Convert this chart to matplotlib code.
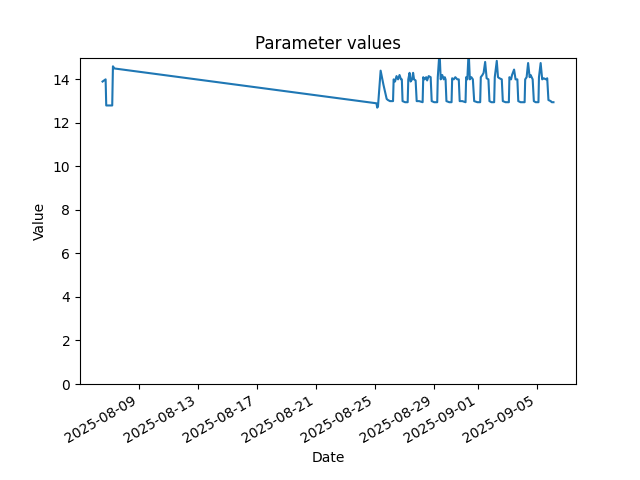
import matplotlib
matplotlib.use("Agg")
import matplotlib.pyplot as plt
import pandas as pd

timestamps = [
    "2025-08-06 13:15", "2025-08-06 18:15", "2025-08-06 19:15", "2025-08-07 05:00",
    "2025-08-07 06:10", "2025-08-07 08:40",
    "2025-08-25 03:00", "2025-08-25 04:15", "2025-08-25 05:30", "2025-08-25 09:50",
    "2025-08-25 14:25", "2025-08-25 19:40", "2025-08-25 21:45",
    "2025-08-26 01:00", "2025-08-26 06:00",
    "2025-08-26 07:00", "2025-08-26 09:15", "2025-08-26 11:40", "2025-08-26 14:10",
    "2025-08-26 16:35", "2025-08-26 19:00", "2025-08-26 20:20", "2025-08-26 21:30",
    "2025-08-27 01:35", "2025-08-27 05:50",
    "2025-08-27 06:50", "2025-08-27 08:55", "2025-08-27 10:35", "2025-08-27 13:00",
    "2025-08-27 14:40", "2025-08-27 16:15", "2025-08-27 18:45", "2025-08-27 20:30",
    "2025-08-28 00:30", "2025-08-28 06:10",
    "2025-08-28 07:10", "2025-08-28 09:30", "2025-08-28 11:55", "2025-08-28 13:30",
    "2025-08-28 16:00", "2025-08-28 19:15", "2025-08-28 20:55",
    "2025-08-29 01:00", "2025-08-29 05:55",
    "2025-08-29 06:50", "2025-08-29 09:40", "2025-08-29 11:35", "2025-08-29 14:05",
    "2025-08-29 16:30", "2025-08-29 18:10", "2025-08-29 19:30", "2025-08-29 20:55",
    "2025-08-30 01:30", "2025-08-30 05:15",
    "2025-08-30 06:15", "2025-08-30 08:50", "2025-08-30 11:20", "2025-08-30 14:35",
    "2025-08-30 17:00", "2025-08-30 18:30",
    "2025-08-30 22:45", "2025-08-31 04:00",
    "2025-08-31 05:00", "2025-08-31 06:55", "2025-08-31 09:05", "2025-08-31 11:00",
    "2025-08-31 13:30", "2025-08-31 15:55", "2025-08-31 18:05",
    "2025-08-31 23:15", "2025-09-01 03:50",
    "2025-09-01 04:50", "2025-09-01 07:30", "2025-09-01 09:25", "2025-09-01 11:55",
    "2025-09-01 14:20", "2025-09-01 17:15", "2025-09-01 18:55",
    "2025-09-01 22:10", "2025-09-02 02:35",
    "2025-09-02 03:35", "2025-09-02 06:50", "2025-09-02 08:50", "2025-09-02 11:15",
    "2025-09-02 15:00", "2025-09-02 16:40",
    "2025-09-02 21:05", "2025-09-03 02:30",
    "2025-09-03 03:25", "2025-09-03 06:05", "2025-09-03 07:40", "2025-09-03 11:00",
    "2025-09-03 13:25", "2025-09-03 16:20", "2025-09-03 17:50",
    "2025-09-03 21:35", "2025-09-04 04:10",
    "2025-09-04 05:05", "2025-09-04 07:25", "2025-09-04 09:50", "2025-09-04 12:20",
    "2025-09-04 13:55", "2025-09-04 17:15", "2025-09-04 19:10",
    "2025-09-04 22:05", "2025-09-05 02:40",
    "2025-09-05 03:30", "2025-09-05 06:15", "2025-09-05 08:45", "2025-09-05 11:10",
    "2025-09-05 14:55", "2025-09-05 16:55", "2025-09-05 18:55",
    "2025-09-05 22:40", "2025-09-06 00:15", "2025-09-06 03:05",
]

values = [
    13.9, 14.0, 12.8, 12.8,
    14.6, 14.5,
    12.9, 12.7, 12.75, 14.4,
    13.75, 13.1, 13.05,
    13.0, 13.0,
    14.0, 13.9, 14.15, 14.0,
    14.2, 14.0, 14.0, 13.0,
    12.95, 12.95,
    14.0, 14.3, 13.9, 14.0,
    14.3, 14.0, 13.95, 13.0,
    13.0, 12.95,
    14.1, 14.0, 14.1, 13.95,
    14.15, 14.1, 13.0,
    12.95, 12.95,
    14.1, 15.3, 14.0, 14.2,
    14.0, 14.1, 14.0, 13.0,
    12.95, 12.95,
    14.05, 14.0, 14.1, 14.0,
    14.0, 13.0,
    13.0, 12.95,
    14.1, 14.0, 15.3, 14.0,
    14.1, 14.0, 13.0,
    12.95, 12.95,
    14.1, 14.2, 14.3, 14.8,
    14.05, 14.0, 13.0,
    12.95, 12.95,
    14.1, 14.85, 14.1, 14.05,
    14.0, 13.0,
    12.95, 12.95,
    14.1, 14.0, 14.2, 14.45,
    14.0, 14.0, 13.0,
    12.95, 12.95,
    14.0, 14.1, 14.75, 14.1,
    14.2, 14.0, 13.0,
    12.95, 12.95,
    14.1, 14.75, 14.0, 14.05,
    14.0, 14.05, 13.05,
    13.0, 12.95, 12.95,
]

dates = pd.to_datetime(timestamps)

fig, ax = plt.subplots(figsize=(6.4, 4.8), dpi=100)
ax.plot(dates, values)
ax.set_ylim(0, 15)
ax.set_title("Parameter values")
ax.set_xlabel("Date")
ax.set_ylabel("Value")
fig.autofmt_xdate()
fig.savefig("out.png")
